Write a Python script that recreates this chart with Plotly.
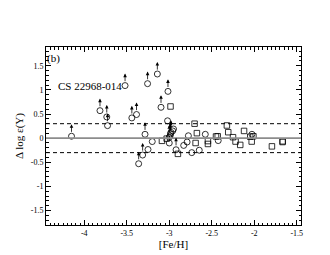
import plotly.graph_objects as go

# Open circles (no limit)
circ_x = [-3.20, -3.25, -3.02, -3.00, -2.96, -2.95, -2.83, -2.79, -2.775, -2.735, -2.647, -2.576, -2.424, -2.027]
circ_y = [-0.07, -0.235, 0.36, -0.10, 0.15, 0.19, -0.15, -0.08, 0.05, -0.30, -0.25, 0.08, -0.05, 0.08]

# Open circles with lower-limit arrows
lim_x = [-4.15, -3.815, -3.735, -3.726, -3.52, -3.44, -3.385, -3.255, -3.14, -3.285, -3.097, -3.015, -3.36, -3.313,
         -2.92, -3.00, -2.99, -2.985, -2.98]
lim_y = [0.04, 0.57, 0.44, 0.26, 1.09, 0.42, 0.49, 1.13, 1.33, 0.08, 0.64, 0.97, -0.53, -0.35,
         -0.24, 0.02, 0.05, 0.09, 0.12]

# Open squares
sq_x = [-3.086, -2.985, -3.03, -2.898, -2.702, -2.675, -2.69, -2.545, -2.545, -2.45, -2.43, -2.322, -2.306,
        -2.25, -2.22, -2.165, -2.12, -2.047, -2.03, -2.01, -1.792, -1.667, -1.665]
sq_y = [-0.055, 0.657, -0.01, -0.325, 0.30, 0.104, -0.10, -0.06, -0.12, 0.035, 0.04, 0.263, 0.124,
        0.02, -0.07, -0.14, 0.15, 0.03, -0.07, 0.04, -0.17, -0.08, -0.065]

x_ticks = [-4, -3.5, -3, -2.5, -2, -1.5]
y_ticks = [-1.5, -1, -0.5, 0, 0.5, 1, 1.5]

font = "Liberation Serif"

fig = go.Figure()
fig.add_trace(go.Scatter(x=circ_x + lim_x, y=circ_y + lim_y, mode="markers",
                         marker=dict(symbol="circle-open", size=6, color="black", line=dict(width=0.8)),
                         showlegend=False))
fig.add_trace(go.Scatter(x=sq_x, y=sq_y, mode="markers",
                         marker=dict(symbol="square-open", size=5.5, color="black", line=dict(width=0.8)),
                         showlegend=False))

for xv, yv in zip(lim_x, lim_y):
    fig.add_annotation(x=xv, y=yv + 0.25, ax=xv, ay=yv + 0.06, xref="x", yref="y", axref="x", ayref="y",
                       showarrow=True, arrowhead=2, arrowsize=0.9, arrowwidth=0.8, arrowcolor="black",
                       standoff=0, startstandoff=0, text="")

# reference lines
fig.add_shape(type="line", xref="paper", x0=0, x1=1, yref="y", y0=0, y1=0,
              line=dict(color="#8c8c8c", width=1.6))
for yv in [0.3, -0.3]:
    fig.add_shape(type="line", xref="paper", x0=0, x1=1, yref="y", y0=yv, y1=yv,
                  line=dict(color="black", width=1, dash="4px,3px"))

fig.add_annotation(x=-4.36, y=1.66, text="(b)", showarrow=False, xanchor="center",
                   font=dict(family=font, size=11, color="black"))
fig.add_annotation(x=-3.93, y=1.09, text="CS 22968-014", showarrow=False, xanchor="center",
                   font=dict(family=font, size=11, color="black"))

axis_common = dict(showgrid=False, zeroline=False, showline=True, linecolor="black", linewidth=1,
                   mirror="ticks", ticks="inside", ticklen=5, tickwidth=1, tickcolor="black",
                   tickfont=dict(family=font, size=8, color="black"))

fig.update_xaxes(range=[-4.45, -1.45], tickvals=x_ticks, ticktext=[f"{v:g}" for v in x_ticks],
                 minor=dict(dtick=0.05, tick0=-4, ticks="inside", ticklen=2.5, tickcolor="black", tickwidth=1),
                 title=dict(text="[Fe/H]", font=dict(family=font, size=11, color="black"), standoff=2),
                 **axis_common)
fig.update_yaxes(range=[-1.8, 1.89], tickvals=y_ticks, ticktext=[f"{v:g}" for v in y_ticks],
                 minor=dict(dtick=0.1, tick0=0, ticks="inside", ticklen=2.5, tickcolor="black", tickwidth=1),
                 title=dict(text="Δ log ε(Y)", font=dict(family=font, size=11, color="black"), standoff=4),
                 **axis_common)

fig.update_layout(width=330, height=255, margin=dict(l=38, r=37, t=39, b=38),
                  paper_bgcolor="white", plot_bgcolor="white", showlegend=False)

fig.write_html("out.html")
